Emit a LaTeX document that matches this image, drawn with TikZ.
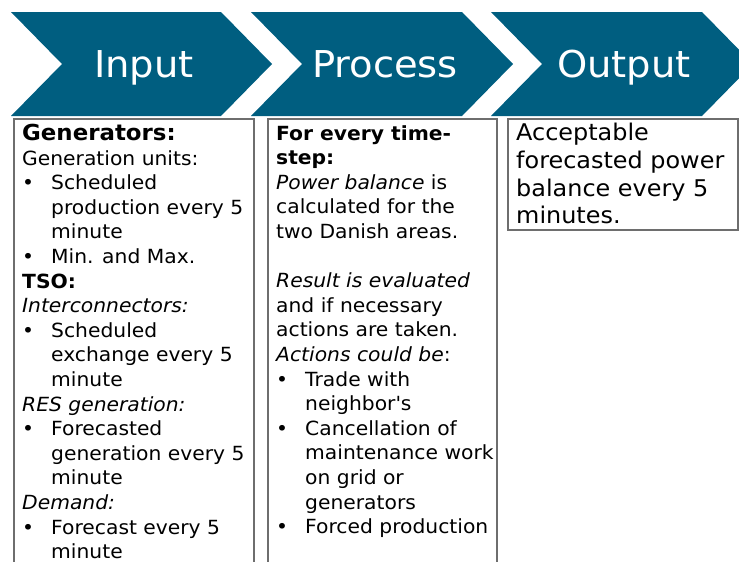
\documentclass[tikz,border=0pt]{standalone}
\usepackage{fontspec}
\setmainfont{DejaVu Sans}[FakeStretch=1.04]
\usepackage{tikz}
\definecolor{chevblue}{RGB}{0,94,128}
\definecolor{boxgray}{RGB}{110,110,110}
\newcommand{\bul}{\makebox[29pt][l]{•}}
\newcommand{\ind}{\hspace*{29pt}}

\begin{document}
\begin{tikzpicture}[x=1pt,y=-1pt,
		chev/.style={fill=chevblue},
		head/.style={text=white,anchor=base,font=\fontsize{37}{40}\selectfont},
		frame/.style={draw=boxgray,line width=1.3pt},
		body/.style={anchor=north west,inner sep=0pt,align=left,font=\fontsize{19.5}{24.6}\selectfont}]
			\useasboundingbox (0,0) rectangle (739,562);
			\clip (0,0) rectangle (739,562);
			\fill[chev] (11,12) -- (221,12) -- (272,64) -- (221,116) -- (11,116) -- (62,64) -- cycle;
			\fill[chev] (251,12) -- (462,12) -- (513,64) -- (462,116) -- (251,116) -- (302,64) -- cycle;
			\fill[chev] (491,12) -- (702,12) -- (753,64) -- (702,116) -- (491,116) -- (542,64) -- cycle;
			\node[head] (input) at (144,77) {Input};
			\node[head] (process) at (385,77) {Process};
			\node[head] (output) at (624,77) {Output};
			\draw[frame] (14,119) rectangle (254,580);
			\draw[frame] (268,119) rectangle (497,580);
			\draw[frame] (508,119) rectangle (738,230);
			\node[body] (intext) at (22,124) {{\fontsize{22}{24.6}\selectfont\textbf{Generators:}}\\
				Generation units:\\
				\bul Scheduled\\
				\ind production every 5\\
				\ind minute\\
				\bul Min. and Max.\\
				\textbf{TSO:}\\
				\textit{Interconnectors:}\\
				\bul Scheduled\\
				\ind exchange every 5\\
				\ind minute\\
				\textit{RES generation:}\\
				\bul Forecasted\\
				\ind generation every 5\\
				\ind minute\\
				\textit{Demand:}\\
				\bul Forecast every 5\\
				\ind minute};
			\node[body] (proctext) at (276,125) {\textbf{For every time-}\\
				\textbf{step:}\\
				\textit{Power balance} is\\
				calculated for the\\
				two Danish areas.\\
				\mbox{}\\
				\textit{Result is evaluated}\\
				and if necessary\\
				actions are taken.\\
				\textit{Actions could be}:\\
				\bul Trade with\\
				\ind neighbor\textquotesingle s\\
				\bul Cancellation of\\
				\ind maintenance work\\
				\ind on grid or\\
				\ind generators\\
				\bul Forced production};
			\node[body,font=\fontsize{23}{27.7}\selectfont] (outtext) at (516,123) {Acceptable\\
				forecasted power\\
				balance every 5\\
				minutes.};
		\end{tikzpicture}
\end{document}
